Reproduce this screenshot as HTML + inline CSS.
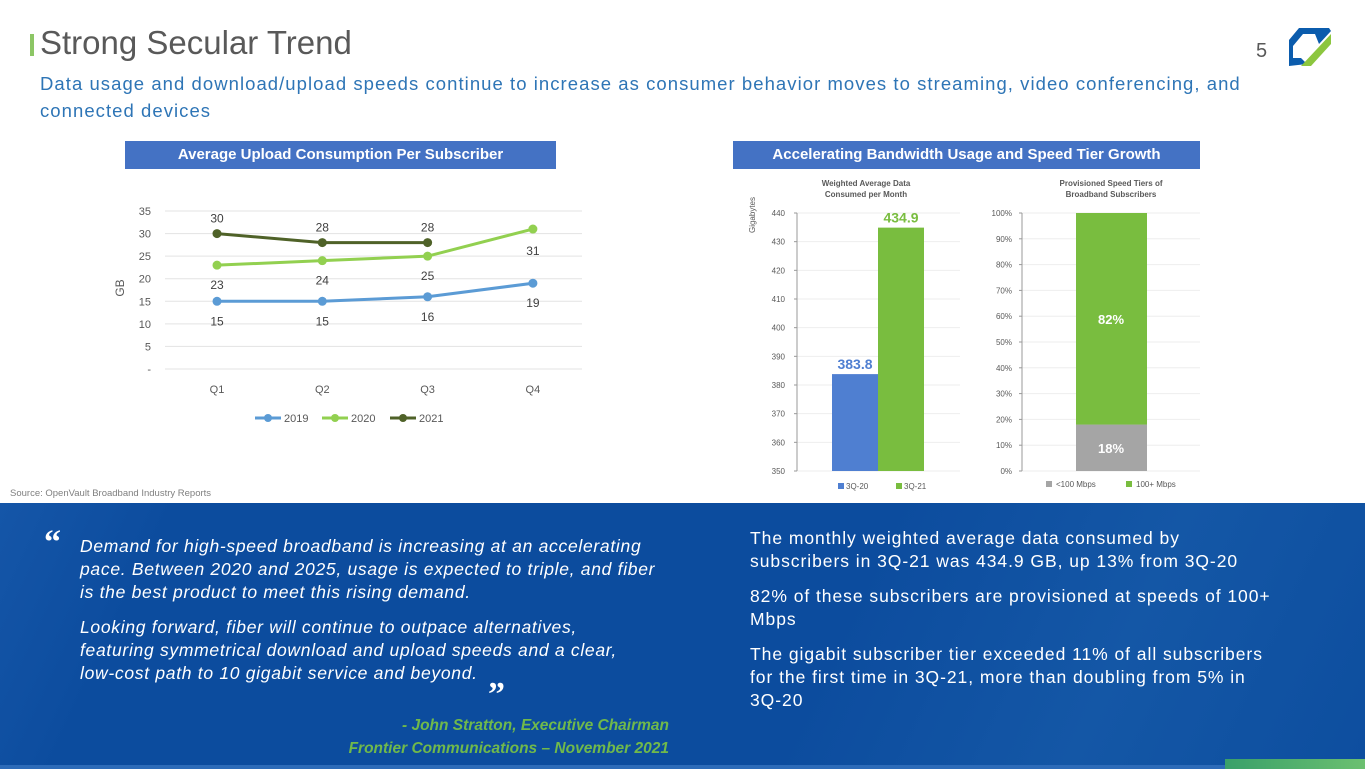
<!DOCTYPE html>
<html><head><meta charset="utf-8">
<style>
body{margin:0;width:1365px;height:769px;overflow:hidden;background:#fff;font-family:"Liberation Sans","DejaVu Sans",sans-serif;position:relative}
.abs{position:absolute}
.hdr{background:#4472c4;color:#fff;font-weight:bold;font-size:15px;text-align:center;line-height:28px;height:28px}
svg text{font-family:"Liberation Sans",sans-serif}
.nw{white-space:nowrap}
</style></head><body>
<div class="abs" style="left:30px;top:34px;width:4px;height:22px;background:#8cc665"></div>
<div class="abs" style="left:40px;top:24px;font-size:33px;color:#595959">Strong Secular Trend</div>
<div class="abs" style="left:1256px;top:40px;font-size:20px;color:#595959">5</div>
<svg class="abs" style="left:1285px;top:22px" width="50" height="50" viewBox="0 0 50 50">
<polygon points="14,6 44,6 46,9 34,22 30,12 18,12 8,24 8,36 4,36 4,18" fill="#0b5cad"/>
<polygon points="4,36 16,36 22,42 4,44" fill="#0b5cad"/>
<polygon points="46,12 46,22 26,44 16,44" fill="#8cc63f"/>
</svg>
<div class="abs nw" style="left:40px;top:70px;font-size:18.5px;line-height:27px;color:#2e75b6;letter-spacing:1.05px">Data usage and download/upload speeds continue to increase as consumer behavior moves to streaming, video conferencing, and<br>connected devices</div>
<div class="abs hdr" style="left:125px;top:141px;width:431px">Average Upload Consumption Per Subscriber</div>
<div class="abs hdr" style="left:733px;top:141px;width:467px">Accelerating Bandwidth Usage and Speed Tier Growth</div>

<svg id="line" class="abs" style="left:0;top:0" width="1365" height="500"></svg>
<div class="abs" style="left:10px;top:488px;font-size:9.5px;color:#7f7f7f">Source: OpenVault Broadband Industry Reports</div>

<div class="abs" style="left:0;top:503px;width:1365px;height:266px;background:linear-gradient(115deg,#1556a8 0%,#0c4c9e 12%,#0c4c9e 60%,#1457a6 80%,#0d4e9f 100%)"></div>
<div class="abs" style="left:0;top:765px;width:1365px;height:4px;background:#2d6bb8"></div>
<div class="abs" style="left:1225px;top:759px;width:140px;height:10px;background:linear-gradient(90deg,#3aa06a,#6cc070)"></div>
<div class="abs" style="left:44px;top:524px;font-size:34px;font-weight:bold;color:#fff;font-family:'Liberation Serif',serif">“</div>
<div class="abs nw" style="left:80px;top:535px;font-size:17.5px;line-height:23px;color:#fff;font-style:italic;letter-spacing:0.7px">
<div>Demand for high-speed broadband is increasing at an accelerating<br>pace. Between 2020 and 2025, usage is expected to triple, and fiber<br>is the best product to meet this rising demand.</div>
<div style="margin-top:12px">Looking forward, fiber will continue to outpace alternatives,<br>featuring symmetrical download and upload speeds and a clear,<br>low-cost path to 10 gigabit service and beyond.</div></div>
<div class="abs" style="left:488px;top:676px;font-size:34px;font-weight:bold;color:#fff;font-family:'Liberation Serif',serif">”</div>
<div class="abs" style="left:300px;top:714px;width:369px;text-align:right;font-size:15.5px;line-height:23px;color:#70b94b;font-weight:bold;font-style:italic">- John Stratton, Executive Chairman<br>Frontier Communications – November 2021</div>
<div class="abs nw" style="left:750px;top:527px;font-size:17.5px;line-height:23px;color:#fff;letter-spacing:0.95px">
<div>The monthly weighted average data consumed by<br>subscribers in 3Q-21 was 434.9 GB, up 13% from 3Q-20</div>
<div style="margin-top:12px">82% of these subscribers are provisioned at speeds of 100+<br>Mbps</div>
<div style="margin-top:12px">The gigabit subscriber tier exceeded 11% of all subscribers<br>for the first time in 3Q-21, more than doubling from 5% in<br>3Q-20</div></div>

<script>
const quarters=["Q1","Q2","Q3","Q4"];
const s2019=[15,15,16,19];
const s2020=[23,24,25,31];
const s2021=[30,28,28];
const lineTicks=["-","5","10","15","20","25","30","35"];
const barCats=["3Q-20","3Q-21"];
const barVals=[383.8,434.9];
const barTicks=[350,360,370,380,390,400,410,420,430,440];
const tierCats=["<100 Mbps","100+ Mbps"];
const tierVals=[18,82];
const tierTicks=[0,10,20,30,40,50,60,70,80,90,100];

const svg=document.getElementById('line');const NS='http://www.w3.org/2000/svg';
function mk(tag,a,name,txt){const e=document.createElementNS(NS,tag);for(const k in a)e.setAttribute(k,a[k]);


if(txt!==undefined)e.textContent=txt;svg.appendChild(e);return e;}
const ly=v=>369-v*(158/35), lx=i=>217+i*105.3;
lineTicks.forEach((t,i)=>{const y=ly(i*5);mk('line',{x1:165,x2:582,y1:y,y2:y,stroke:'#e3e3e3'},'gridline');
mk('text',{x:151,y:y+4,'text-anchor':'end','font-size':11,fill:'#595959'},'y-tick-label',t);});
mk('text',{x:0,y:0,transform:'translate(124,288) rotate(-90)','text-anchor':'middle','font-size':12,fill:'#595959'},'y-axis-title','GB');
quarters.forEach((q,i)=>mk('text',{x:lx(i),y:393,'text-anchor':'middle','font-size':11,fill:'#595959'},'x-tick-label',q));
function series(vals,col,name,off){mk('polyline',{points:vals.map((v,i)=>lx(i)+','+ly(v)).join(' '),fill:'none',stroke:col,'stroke-width':3},name+'-line');
vals.forEach((v,i)=>{mk('circle',{cx:lx(i),cy:ly(v),r:4.5,fill:col},name+'-point');
const o=off(i);mk('text',{x:lx(i),y:ly(v)+o,'text-anchor':'middle','font-size':12,fill:'#404040'},name+'-label',v);});}
series(s2019,'#5b9bd5','series-2019',()=>24);
series(s2020,'#92d050','series-2020',i=>i==3?26:24);
series(s2021,'#4f6228','series-2021',()=>-11);
[['2019','#5b9bd5',255],['2020','#92d050',322],['2021','#4f6228',390]].forEach(l=>{
mk('line',{x1:l[2],x2:l[2]+26,y1:418,y2:418,stroke:l[1],'stroke-width':3},'legend-line');
mk('circle',{cx:l[2]+13,cy:418,r:4,fill:l[1]},'legend-marker');
mk('text',{x:l[2]+29,y:422,'font-size':11,fill:'#595959'},'legend-label',l[0]);});
const by=v=>471-(v-350)*(258/90);
mk('text',{x:866,y:186,'text-anchor':'middle','font-size':8,'font-weight':'bold',fill:'#595959'},'bar-chart-title','Weighted Average Data');
mk('text',{x:866,y:197,'text-anchor':'middle','font-size':8,'font-weight':'bold',fill:'#595959'},'bar-chart-title','Consumed per Month');
mk('text',{x:0,y:0,transform:'translate(755,215) rotate(-90)','text-anchor':'middle','font-size':8,fill:'#595959'},'bar-y-axis-title','Gigabytes');
barTicks.forEach(t=>{const y=by(t);mk('line',{x1:797,x2:960,y1:y,y2:y,stroke:'#eee'},'gridline');
mk('line',{x1:794,x2:797,y1:y,y2:y,stroke:'#999'},'tick');
mk('text',{x:785,y:y+3,'text-anchor':'end','font-size':8,fill:'#595959'},'bar-y-tick',t);});
mk('line',{x1:797,x2:797,y1:by(440),y2:471,stroke:'#999'},'y-axis');
const bcol=['#4f7fd1','#79bd3f'];
barVals.forEach((v,i)=>{const x=832+i*46;mk('rect',{x:x,y:by(v),width:46,height:471-by(v),fill:bcol[i]},'bar-'+barCats[i]);
mk('text',{x:x+23,y:by(v)-5,'text-anchor':'middle','font-size':14,'font-weight':'bold',fill:bcol[i]},'bar-value-label',v.toFixed(1));
mk('rect',{x:838+i*58,y:483,width:6,height:6,fill:bcol[i]},'legend-swatch');
mk('text',{x:846+i*58,y:489,'font-size':8,fill:'#595959'},'legend-label',barCats[i]);});
const sy=v=>471-v*2.58;
mk('text',{x:1111,y:186,'text-anchor':'middle','font-size':8,'font-weight':'bold',fill:'#595959'},'tier-chart-title','Provisioned Speed Tiers of');
mk('text',{x:1111,y:197,'text-anchor':'middle','font-size':8,'font-weight':'bold',fill:'#595959'},'tier-chart-title','Broadband Subscribers');
tierTicks.forEach(t=>{const y=sy(t);mk('line',{x1:1022,x2:1200,y1:y,y2:y,stroke:'#eee'},'gridline');
mk('line',{x1:1019,x2:1022,y1:y,y2:y,stroke:'#999'},'tick');
mk('text',{x:1012,y:y+3,'text-anchor':'end','font-size':8,fill:'#595959'},'tier-y-tick',t+'%');});
mk('line',{x1:1022,x2:1022,y1:sy(100),y2:471,stroke:'#999'},'y-axis');
const tcol=['#a5a5a5','#79bd3f'];let acc=0;
tierVals.forEach((v,i)=>{const y0=sy(acc),y1=sy(acc+v);mk('rect',{x:1076,y:y1,width:71,height:y0-y1,fill:tcol[i]},'tier-segment-'+i);
mk('text',{x:1111,y:(y0+y1)/2+5,'text-anchor':'middle','font-size':13,'font-weight':'bold',fill:'#fff'},'tier-value-label',v+'%');acc+=v;
mk('rect',{x:1046+i*80,y:481,width:6,height:6,fill:tcol[i]},'legend-swatch');
mk('text',{x:1056+i*80,y:487,'font-size':8,fill:'#595959'},'legend-label',tierCats[i]);});
</script>
</body></html>
